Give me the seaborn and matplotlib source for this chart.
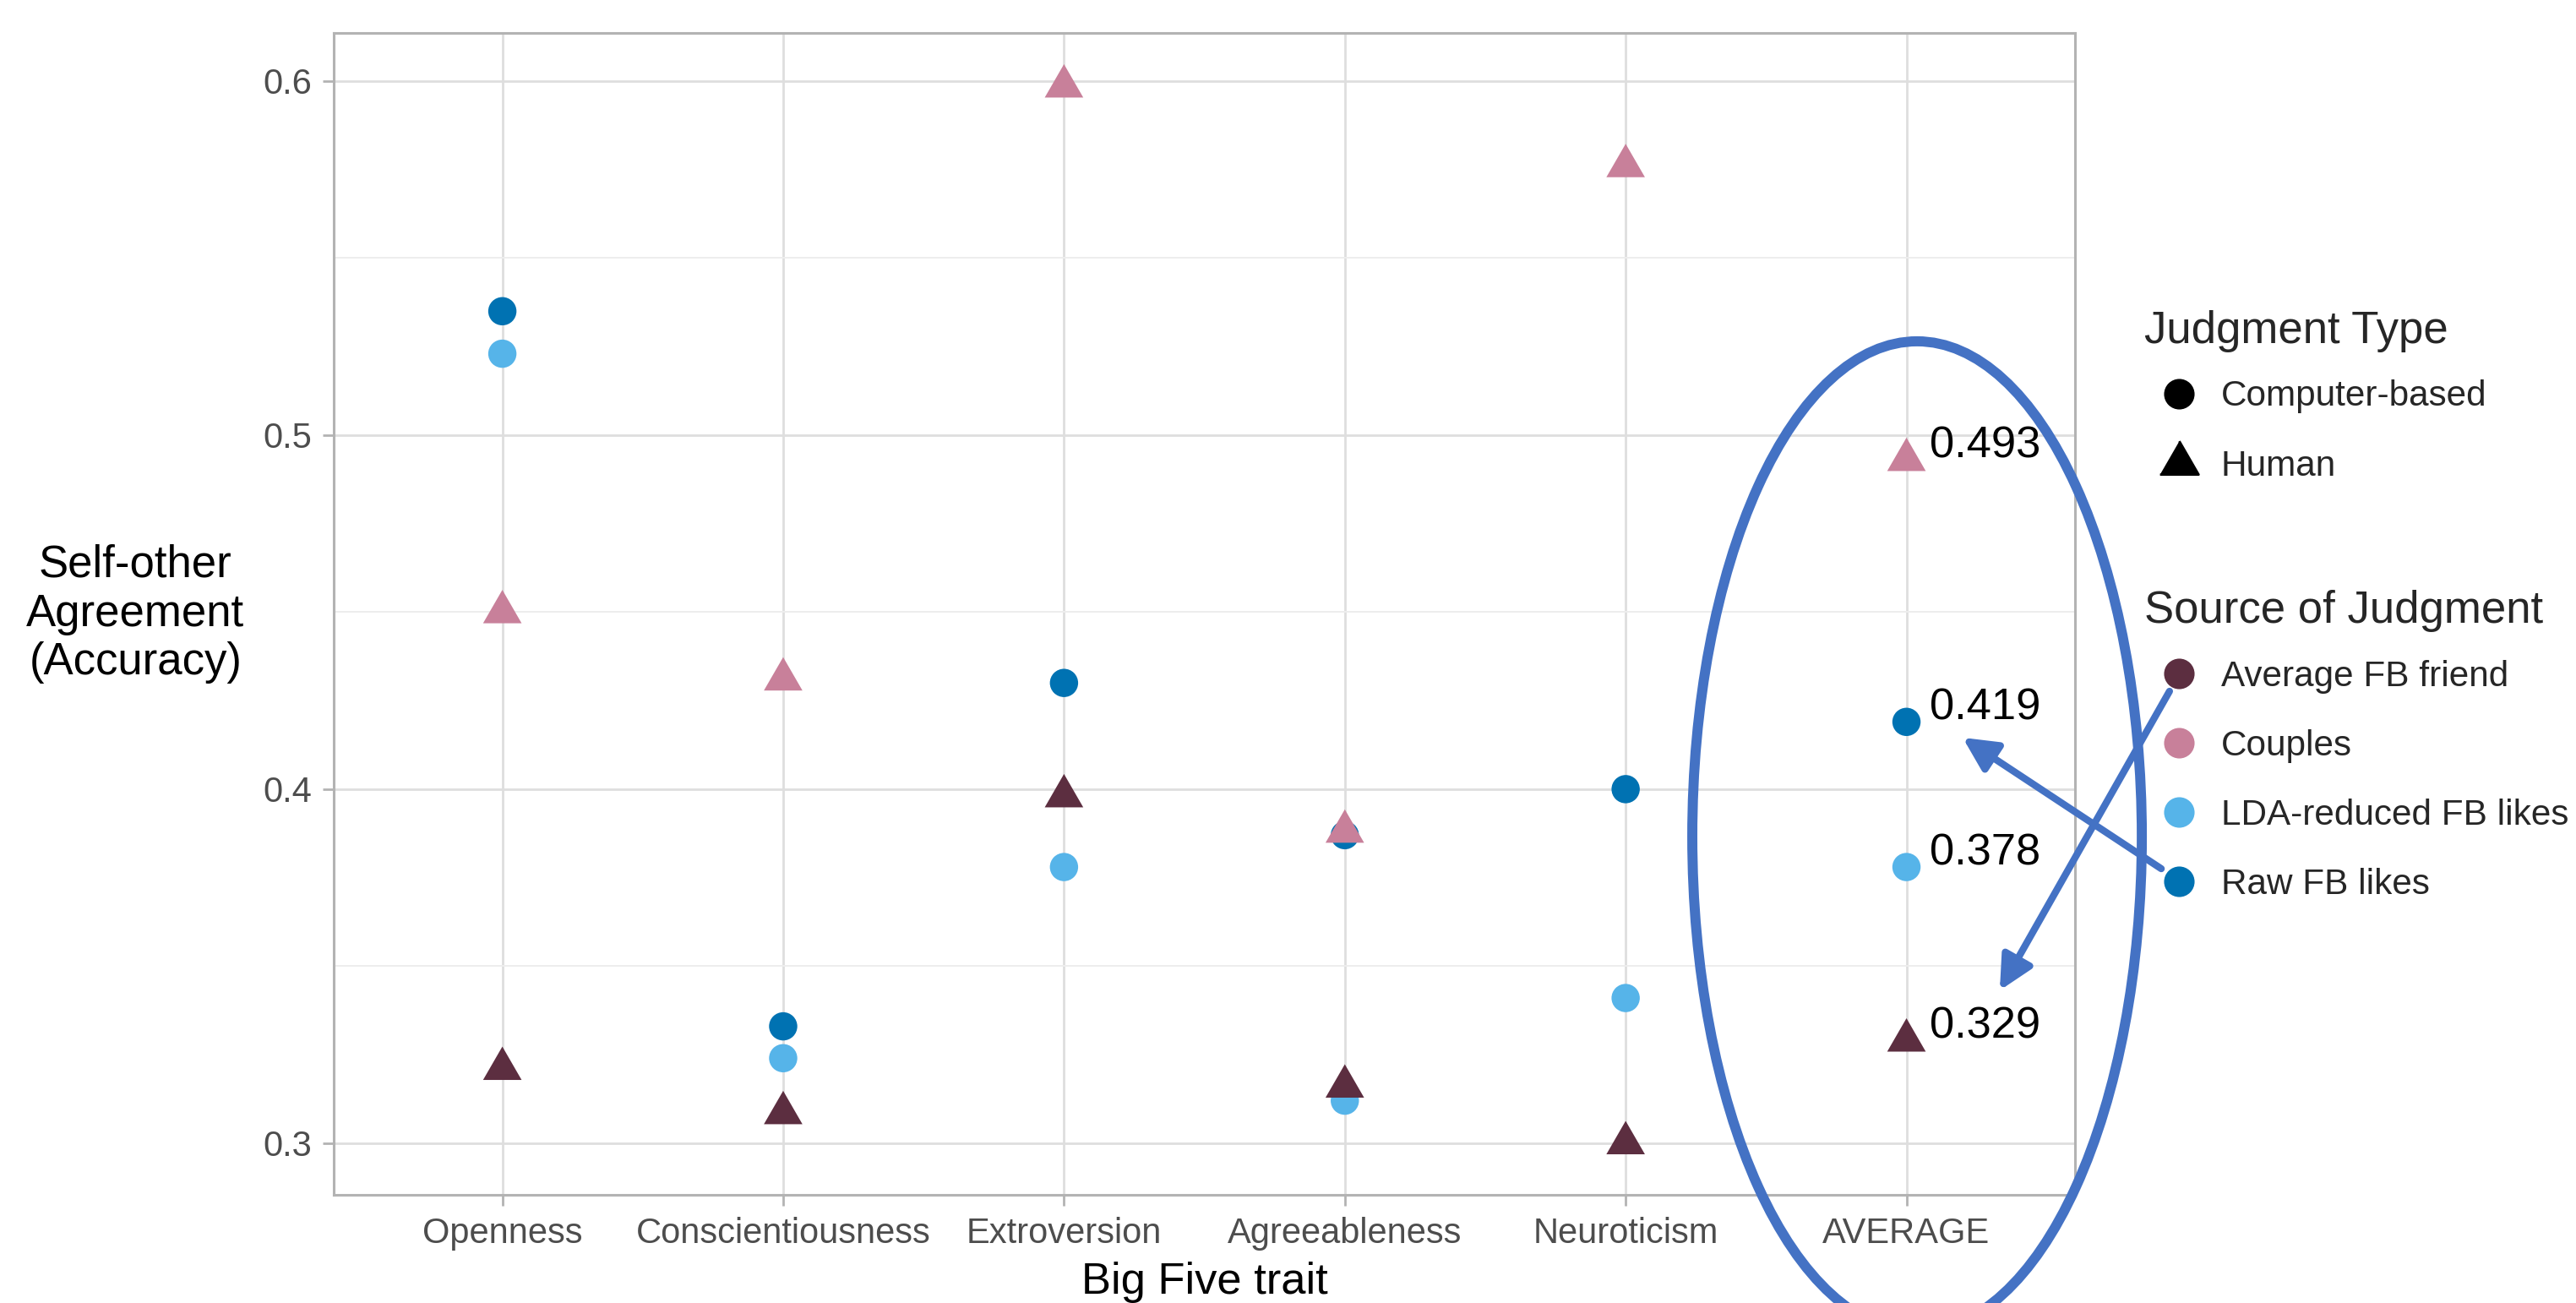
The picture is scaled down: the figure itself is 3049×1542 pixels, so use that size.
import matplotlib
matplotlib.use('Agg')
import pandas as pd
import seaborn as sns
import matplotlib.pyplot as plt
from matplotlib.patches import Ellipse, FancyArrowPatch
from matplotlib.lines import Line2D
from matplotlib.ticker import MultipleLocator, FormatStrFormatter

# data
traits = ['Openness', 'Conscientiousness', 'Extroversion', 'Agreeableness', 'Neuroticism', 'AVERAGE']
sources = ['Average FB friend', 'Couples', 'LDA-reduced FB likes', 'Raw FB likes']
source_types = ['Human', 'Human', 'Computer-based', 'Computer-based']
judgment_types = ['Computer-based', 'Human']

friend_acc = [0.321, 0.3085, 0.398, 0.316, 0.300, 0.329]
couples_acc = [0.450, 0.431, 0.5985, 0.388, 0.576, 0.493]
lda_acc = [0.523, 0.324, 0.378, 0.312, 0.341, 0.378]
raw_acc = [0.535, 0.333, 0.430, 0.387, 0.400, 0.419]

source_colors = ['#5C2E40', '#C8809A', '#56B4E9', '#0072B2']

rows = []
for src, typ, vals in zip(sources, source_types, [friend_acc, couples_acc, lda_acc, raw_acc]):
    for t, v in zip(traits, vals):
        rows.append({'Trait': t, 'Source': src, 'Judgment Type': typ, 'Accuracy': v})
df = pd.DataFrame(rows)
df['Trait'] = pd.Categorical(df['Trait'], categories=traits, ordered=True)
palette = dict(zip(sources, source_colors))

sns.set_theme(style='whitegrid')
plt.rcParams['font.family'] = ['Liberation Sans', 'DejaVu Sans']

# triangle centred on its centroid, like ggplot's shape 17
tri = [(-1, -0.577), (1, -0.577), (0, 1.155)]

fig = plt.figure(figsize=(15.245, 7.71), dpi=200)
ax = fig.add_axes([0.1296, 0.0830, 0.8055 - 0.1296, 0.9747 - 0.0830])

comp = df[df['Judgment Type'] == 'Computer-based']
hum = df[df['Judgment Type'] == 'Human']
sns.scatterplot(x=comp['Trait'].cat.codes, y=comp['Accuracy'], hue=comp['Source'], palette=palette,
                marker='o', s=145, linewidth=0, legend=False, ax=ax, zorder=3)
sns.scatterplot(x=hum['Trait'].cat.codes, y=hum['Accuracy'], hue=hum['Source'], palette=palette,
                marker=tri, s=360, linewidth=0, legend=False, ax=ax, zorder=4)

# value labels next to the AVERAGE column
avg_idx = traits.index('AVERAGE')
for vals in [couples_acc, raw_acc, lda_acc, friend_acc]:
    ax.annotate(f'{vals[avg_idx]:.3f}', (avg_idx, vals[avg_idx]), xytext=(10, 1),
                textcoords='offset points', ha='left', va='baseline',
                fontsize=18.9, color='black', zorder=5)

ax.set_xlim(-0.6, 5.6)
ax.set_ylim(0.2854, 0.6136)
ax.set_xticks(range(len(traits)))
ax.set_xticklabels(traits)
ax.yaxis.set_major_locator(MultipleLocator(0.1))
ax.yaxis.set_minor_locator(MultipleLocator(0.05))
ax.yaxis.set_major_formatter(FormatStrFormatter('%.1f'))

ax.grid(which='major', color='#DEDEDE', linewidth=1.0)
ax.grid(which='minor', axis='y', color='#EDEDED', linewidth=0.7)
ax.set_axisbelow(True)
for sp in ax.spines.values():
    sp.set_visible(True)
    sp.set_color('#B3B3B3')
    sp.set_linewidth(1.1)
ax.tick_params(which='major', length=4.7, width=1.0, color='#B3B3B3',
               labelsize=15, labelcolor='#4D4D4D', pad=4.5,
               bottom=True, left=True)
ax.tick_params(which='minor', length=0)

ax.set_xlabel('Big Five trait', fontsize=18.9, color='black', labelpad=5)
ax.set_ylabel('Self-other\nAgreement\n(Accuracy)', fontsize=19, color='black',
              rotation=0, ha='center', va='center', linespacing=1.2)
ax.yaxis.set_label_coords(-0.114, 0.5)

# legends
leg_kw = dict(loc='upper left', frameon=False, borderpad=0, borderaxespad=0,
              fontsize=15.2, title_fontsize=19, handlelength=1.95,
              handletextpad=0.2, labelspacing=1.0, alignment='left')
type_handles = [
    Line2D([], [], marker='o', color='black', linestyle='', markersize=12),
    Line2D([], [], marker=tri, color='black', linestyle='', markersize=19),
]
leg1 = fig.legend(type_handles, judgment_types, title='Judgment Type',
                  bbox_to_anchor=(0.8324, 0.7622), **leg_kw)
src_handles = [Line2D([], [], marker='o', color=c, linestyle='', markersize=12)
               for c in source_colors]
leg2 = fig.legend(src_handles, sources, title='Source of Judgment',
                  bbox_to_anchor=(0.8324, 0.5475), **leg_kw)
for leg in (leg1, leg2):
    leg._legend_box.sep = 11.8

# highlight ellipse and arrows (figure coordinates)
hl = '#4472C4'
fig.add_artist(Ellipse((0.7442, 0.3580), 0.1745, 0.7601, transform=fig.transFigure,
                       fill=False, edgecolor=hl, linewidth=4.3, zorder=6))
for start, end in [((0.8390, 0.3333), (0.7619, 0.4339)),
                   ((0.8422, 0.4695), (0.7763, 0.2399))]:
    fig.add_artist(FancyArrowPatch(start, end, transform=fig.transFigure,
                                   arrowstyle='-|>,head_length=12,head_width=6',
                                   mutation_scale=1, linewidth=3, color=hl,
                                   shrinkA=0, shrinkB=0, zorder=7))

fig.savefig('out.png', dpi=200)
